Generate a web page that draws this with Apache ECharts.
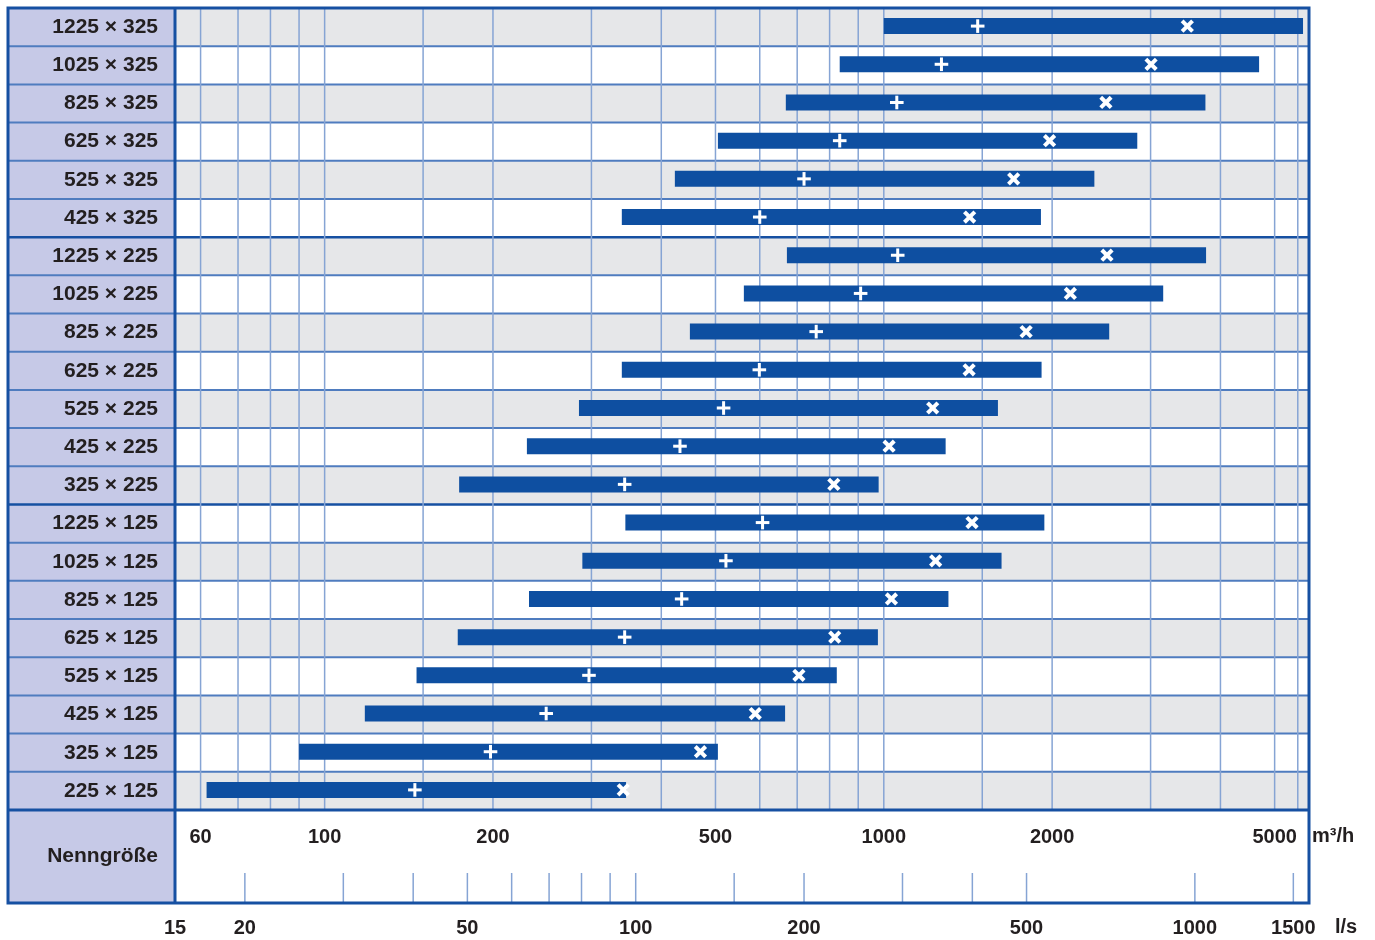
<!DOCTYPE html>
<html>
<head>
<meta charset="utf-8">
<script src="https://cdn.jsdelivr.net/npm/echarts@6/dist/echarts.min.js"></script>
<style>html,body{margin:0;padding:0;background:#fff}#c{width:1375px;height:940px}</style>
</head>
<body>
<div id="c"></div>
<script>
// ---- data ----
const categories = ['1225 × 325','1025 × 325','825 × 325','625 × 325','525 × 325','425 × 325',
  '1225 × 225','1025 × 225','825 × 225','625 × 225','525 × 225','425 × 225','325 × 225',
  '1225 × 125','1025 × 125','825 × 125','625 × 125','525 × 125','425 × 125','325 × 125','225 × 125'];
const minFlow   = [1000, 834, 668, 505, 423, 340,  671, 562, 450, 340, 285, 230, 174,  345, 289, 232, 173, 146, 118, 90, 61.5];
const maxFlow   = [5620, 4690, 3760, 2840, 2380, 1910,  3770, 3160, 2530, 1915, 1600, 1290, 979,  1937, 1624, 1305, 976, 824, 666, 505, 346];
const plusFlow  = [1472, 1268, 1055, 834, 720, 600,  1059, 909, 757, 599, 517, 432, 344,  607, 522, 435, 344, 297, 249, 198, 145];
const crossFlow = [3490, 3006, 2496, 1979, 1707, 1424,  2507, 2156, 1797, 1421, 1223, 1022, 814,  1438, 1238, 1032, 817, 705, 589, 470, 342];
const gridLinesM3h = [60,70,80,90,100,150,200,300,400,500,600,700,800,900,1000,1500,2000,3000,4000,5000,5500];
const tickLabelsM3h = [60,100,200,500,1000,2000,5000];
const ticksLs = [20,30,40,50,60,70,80,90,100,150,200,300,400,500,1000,1500];
const tickLabelsLs = [15,20,50,100,200,500,1000,1500];
const rangeM3h = [54, 5760];
const rangeLs = [15, 1600];

// ---- styles ----
const FONT = "'Liberation Sans', Arial, Helvetica, sans-serif";
const TXT = '#231f20';
const DARK = '#1650a2';
const SEP = '#4f7cbf';
const GRIDC = '#86a4d4';
const BAR = '#0e4fa1';
const LAV = '#c6c9e7';
const GRAY = '#e6e7e9';
const L = 175, T = 8, W = 1134, H = 802, LEFTCOL = 167, BOT = 93;

const groupOf = c => c.split('×')[1].trim();

const chart = echarts.init(document.getElementById('c'));
chart.setOption({
  animation: false,
  backgroundColor: '#fff',
  grid: [
    {left: L, top: T, width: W, height: H},
    {left: L, top: T + H, width: W, height: BOT}
  ],
  xAxis: [
    {type: 'log', min: rangeM3h[0], max: rangeM3h[1], show: false, gridIndex: 0},
    {type: 'log', min: rangeLs[0], max: rangeLs[1], show: false, gridIndex: 1}
  ],
  yAxis: [
    {type: 'category', data: categories, inverse: true, gridIndex: 0,
     axisLine: {show: false}, axisTick: {show: false}, splitLine: {show: false},
     axisLabel: {fontSize: 21, fontWeight: 'bold', color: TXT, fontFamily: FONT, margin: 17, padding: [3, 0, 0, 0]}},
    {type: 'value', min: 0, max: 1, show: false, gridIndex: 1}
  ],
  graphic: [
    {type: 'rect', z: -5, shape: {x: L - LEFTCOL, y: T, width: LEFTCOL, height: H + BOT}, style: {fill: LAV}},
    {type: 'text', z: 10, style: {text: 'Nenngröße', x: L - 17, y: T + H + 46, align: 'right', verticalAlign: 'middle',
      font: "bold 21px " + FONT, fill: TXT}},
    {type: 'text', z: 10, style: {text: 'm³/h', x: L + W + 3, y: T + H + 26, align: 'left', verticalAlign: 'middle',
      font: "bold 20px " + FONT, fill: TXT}},
    {type: 'text', z: 10, style: {text: 'l/s', x: L + W + 26, y: T + H + BOT + 24, align: 'left', verticalAlign: 'middle',
      font: "bold 20px " + FONT, fill: TXT}},
    {type: 'rect', z: 100, shape: {x: L - LEFTCOL, y: T, width: W + LEFTCOL, height: H + BOT}, style: {fill: 'none', stroke: DARK, lineWidth: 3}},
    {type: 'line', z: 100, shape: {x1: L, y1: T, x2: L, y2: T + H + BOT}, style: {stroke: DARK, lineWidth: 3}},
    {type: 'line', z: 100, shape: {x1: L - LEFTCOL, y1: T + H, x2: L + W, y2: T + H}, style: {stroke: DARK, lineWidth: 3}}
  ],
  series: [
    { // row backgrounds and separators
      type: 'custom', name: 'rows', xAxisIndex: 0, yAxisIndex: 0, z: 1, silent: true, clip: false,
      data: categories.map((c, i) => [rangeM3h[0], i]),
      encode: {x: 0, y: 1},
      renderItem: function (params, api) {
        const cs = params.coordSys;
        const i = api.value(1);
        const cy = api.coord([api.value(0), i])[1];
        const h = cs.height / categories.length;
        const children = [{type: 'rect', shape: {x: cs.x, y: cy - h / 2, width: cs.width, height: h},
          style: {fill: i % 2 === 0 ? GRAY : '#ffffff'}}];
        if (i < categories.length - 1) {
          const boundary = groupOf(categories[i]) !== groupOf(categories[i + 1]);
          children.push({type: 'line', z2: boundary ? 20 : 10,
            shape: {x1: cs.x - LEFTCOL, y1: cy + h / 2, x2: cs.x + cs.width, y2: cy + h / 2},
            style: {stroke: boundary ? DARK : SEP, lineWidth: boundary ? 2.5 : 2}});
        }
        return {type: 'group', children: children};
      }
    },
    { // vertical grid lines
      type: 'custom', name: 'grid', xAxisIndex: 0, yAxisIndex: 0, z: 2, silent: true,
      data: gridLinesM3h.map(v => [v, 0]),
      encode: {x: 0, y: 1},
      renderItem: function (params, api) {
        const cs = params.coordSys;
        const x = api.coord([api.value(0), 0])[0];
        return {type: 'line', shape: {x1: x, y1: cs.y, x2: x, y2: cs.y + cs.height},
          style: {stroke: GRIDC, lineWidth: 1.5}};
      }
    },
    { // range bars
      type: 'custom', name: 'range', xAxisIndex: 0, yAxisIndex: 0, z: 3,
      data: categories.map((c, i) => [minFlow[i], maxFlow[i], i]),
      encode: {x: [0, 1], y: 2},
      renderItem: function (params, api) {
        const p0 = api.coord([api.value(0), api.value(2)]);
        const p1 = api.coord([api.value(1), api.value(2)]);
        return {type: 'rect', shape: {x: p0[0], y: p0[1] - 9, width: p1[0] - p0[0], height: 16},
          style: {fill: BAR}};
      }
    },
    { // + and × markers
      type: 'custom', name: 'markers', xAxisIndex: 0, yAxisIndex: 0, z: 4,
      data: categories.map((c, i) => [plusFlow[i], crossFlow[i], i]),
      encode: {x: [0, 1], y: 2},
      renderItem: function (params, api) {
        const p = api.coord([api.value(0), api.value(2)]);
        const q = api.coord([api.value(1), api.value(2)]);
        const s = {stroke: '#ffffff', lineWidth: 3};
        const sx = {stroke: '#ffffff', lineWidth: 4};
        const y = p[1] - 1, d = 6.8, e = 5.2;
        return {type: 'group', children: [
          {type: 'line', shape: {x1: p[0] - d, y1: y, x2: p[0] + d, y2: y}, style: s},
          {type: 'line', shape: {x1: p[0], y1: y - d, x2: p[0], y2: y + d}, style: s},
          {type: 'line', shape: {x1: q[0] - e, y1: y - e, x2: q[0] + e, y2: y + e}, style: sx},
          {type: 'line', shape: {x1: q[0] - e, y1: y + e, x2: q[0] + e, y2: y - e}, style: sx}
        ]};
      }
    },
    { // m³/h tick labels
      type: 'custom', name: 'm3hLabels', xAxisIndex: 0, yAxisIndex: 0, z: 5, silent: true, clip: false,
      data: tickLabelsM3h.map(v => [v, 0]),
      encode: {x: 0, y: 1},
      renderItem: function (params, api) {
        const cs = params.coordSys;
        const x = api.coord([api.value(0), 0])[0];
        return {type: 'text', style: {text: String(api.value(0)), x: x, y: cs.y + cs.height + 27,
          align: 'center', verticalAlign: 'middle', font: 'bold 20px ' + FONT, fill: TXT}};
      }
    },
    { // l/s ticks
      type: 'custom', name: 'lsTicks', xAxisIndex: 1, yAxisIndex: 1, z: 5, silent: true,
      data: ticksLs.map(v => [v, 0]),
      encode: {x: 0, y: 1},
      renderItem: function (params, api) {
        const cs = params.coordSys;
        const x = api.coord([api.value(0), 0])[0];
        return {type: 'line', shape: {x1: x, y1: cs.y + cs.height - 30, x2: x, y2: cs.y + cs.height},
          style: {stroke: GRIDC, lineWidth: 1.5}};
      }
    },
    { // l/s labels
      type: 'custom', name: 'lsLabels', xAxisIndex: 1, yAxisIndex: 1, z: 5, silent: true, clip: false,
      data: tickLabelsLs.map(v => [v, 0]),
      encode: {x: 0, y: 1},
      renderItem: function (params, api) {
        const cs = params.coordSys;
        const x = api.coord([api.value(0), 0])[0];
        return {type: 'text', style: {text: String(api.value(0)), x: x, y: cs.y + cs.height + 25,
          align: 'center', verticalAlign: 'middle', font: 'bold 20px ' + FONT, fill: TXT}};
      }
    }
  ]
});
</script>
</body>
</html>
